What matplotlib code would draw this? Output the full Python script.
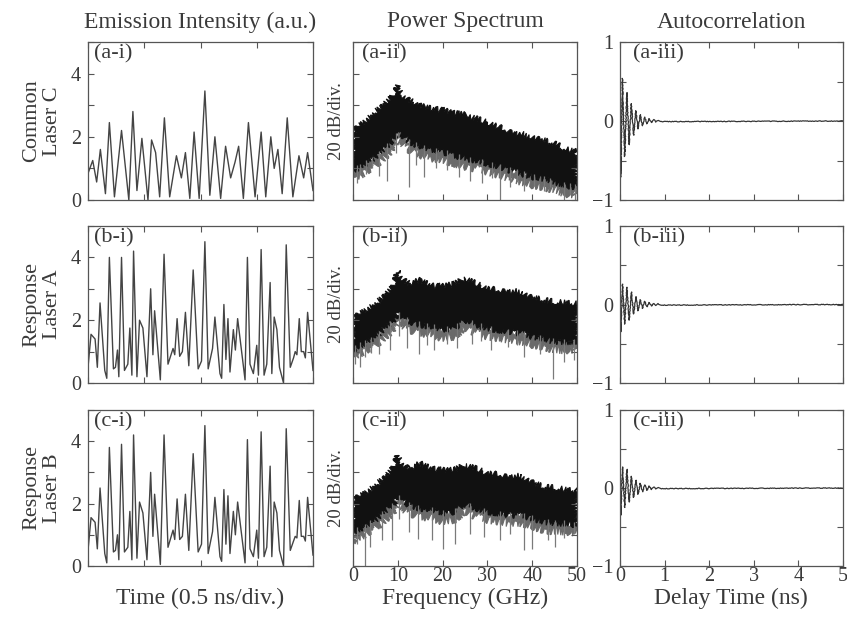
import numpy as np
import matplotlib
matplotlib.use('Agg')
import matplotlib.pyplot as plt
from matplotlib.ticker import MultipleLocator, NullFormatter

plt.rcParams['font.family'] = ['Liberation Serif', 'DejaVu Serif']

txt = '#3a3a3a'
edge = '#555555'

# ---- emission intensity (time in ns, intensity a.u.) ----
tA = [0.000, 0.042, 0.077, 0.110, 0.155, 0.190, 0.235, 0.298, 0.363, 0.399, 0.435, 0.479,
      0.533, 0.565, 0.601, 0.637, 0.679, 0.726, 0.786, 0.830, 0.866, 0.905, 0.943, 0.988,
      1.039, 1.083, 1.128, 1.179, 1.223, 1.268, 1.307, 1.339, 1.381, 1.426, 1.485, 1.539,
      1.580, 1.625, 1.655, 1.688, 1.726, 1.771, 1.821, 1.875, 1.917, 1.952, 2.000]
intA = [0.84, 1.25, 0.57, 1.6, 0.2, 2.45, 0.1, 2.2, 0.0, 2.8, 0.3, 1.95,
        0.0, 1.9, 1.5, 0.1, 2.6, 0.1, 1.4, 0.7, 1.5, 0.05, 2.15, 0.05,
        3.45, 0.15, 2.0, 0.05, 1.7, 0.7, 1.2, 1.7, 0.05, 2.45, 0.1, 2.15,
        0.1, 2.0, 1.0, 1.6, 0.2, 2.6, 0.1, 1.4, 0.7, 1.5, 0.3]

tB = [0.000, 0.027, 0.063, 0.083, 0.107, 0.149, 0.167, 0.190, 0.226, 0.244, 0.262, 0.274,
      0.298, 0.324, 0.354, 0.372, 0.390, 0.405, 0.435, 0.458, 0.488, 0.524, 0.557, 0.577,
      0.592, 0.643, 0.676, 0.711, 0.756, 0.771, 0.792, 0.815, 0.839, 0.866, 0.896, 0.935,
      0.979, 1.009, 1.039, 1.068, 1.107, 1.128, 1.173, 1.188, 1.208, 1.226, 1.244, 1.262,
      1.292, 1.310, 1.330, 1.396, 1.417, 1.440, 1.470, 1.500, 1.515, 1.539, 1.565, 1.589,
      1.619, 1.634, 1.655, 1.679, 1.702, 1.738, 1.762, 1.798, 1.827, 1.842, 1.857, 1.878,
      1.896, 1.917, 1.932, 1.952, 2.000]
intB = [0.5, 1.55, 1.4, 0.5, 2.55, 0.4, 0.15, 4.0, 0.45, 0.5, 1.05, 0.2,
        4.0, 0.4, 0.6, 1.75, 0.25, 4.2, 0.2, 2.0, 1.75, 0.2, 3.0, 0.9,
        2.3, 0.1, 4.1, 0.6, 1.1, 0.9, 2.05, 0.85, 1.0, 2.25, 0.55, 3.6,
        0.45, 0.7, 4.5, 0.45, 1.1, 2.1, 0.3, 0.15, 2.5, 0.75, 2.05, 0.35,
        1.7, 1.05, 2.05, 0.1, 4.0, 0.6, 0.3, 1.2, 0.25, 4.25, 0.25, 0.6,
        3.2, 0.3, 2.1, 1.7, 0.5, 0.0, 4.4, 0.5, 0.8, 1.0, 0.9, 2.05,
        1.0, 1.0, 0.8, 2.25, 0.4]
intC = [0.5, 1.55, 1.4, 0.55, 2.5, 0.4, 0.1, 3.8, 0.45, 0.5, 1.0, 0.2,
        3.9, 0.45, 0.6, 1.75, 0.2, 4.2, 0.25, 2.05, 1.7, 0.2, 3.0, 0.95,
        2.3, 0.05, 4.2, 0.6, 1.15, 0.85, 2.15, 0.85, 0.95, 2.3, 0.5, 3.6,
        0.45, 0.7, 4.5, 0.4, 1.1, 2.2, 0.3, 0.15, 2.45, 0.7, 2.25, 0.4,
        1.75, 1.0, 2.05, 0.1, 4.05, 0.55, 0.3, 1.15, 0.25, 4.3, 0.3, 0.6,
        3.2, 0.3, 2.05, 1.7, 0.5, 0.0, 4.4, 0.5, 0.8, 0.95, 0.9, 2.1,
        0.95, 0.95, 0.8, 2.2, 0.35]

# ---- power spectra (GHz, dB above axis bottom) ----
freq = [0, 1, 2.5, 5, 7.5, 9, 10, 11, 12.5, 15, 17.5, 20, 22.5, 25, 27.5, 30,
        32.5, 35, 37.5, 40, 42.5, 45, 47.5, 50]
specA_top = [43, 46, 49.6, 56, 62, 66.6, 72, 66.6, 63.4, 59.6, 58, 57, 55, 54, 51.7, 49,
             46.4, 44, 42, 40, 38, 35.7, 32.5, 31.5]
specA_low = [18.7, 20, 22, 27, 33.6, 38, 43, 41, 37, 33.6, 31.5, 30.4, 28.3, 26, 25, 23,
             21, 18.7, 16.6, 14.5, 13.4, 11.3, 9, 8]
specB_top = [41, 43, 46, 50.6, 57, 62, 71.5, 66.6, 63.4, 65.5, 62, 61.7, 63, 66.6, 63.4, 60,
             59.6, 59, 58, 54.5, 53, 51.7, 52, 50.6]
specB_low = [21, 23, 25, 29, 35.7, 39, 44, 42, 39, 37, 35.7, 33.6, 34.7, 40, 37, 34.7,
             33.6, 32.5, 31.5, 29.4, 28.3, 26, 26, 26]
specC_top = [42, 44, 46.5, 52, 58, 63.6, 71, 65.7, 62.5, 65.7, 62.5, 61.5, 61.5, 64.7, 62.5, 59.3,
             59, 58, 57.6, 54, 50.7, 50.3, 49.7, 48.6]
specC_low = [20.8, 23, 25, 29.3, 35.8, 39, 44.3, 42, 39, 36.8, 35.8, 33.6, 34.7, 40, 36.8, 34.7,
             33.6, 32.5, 32.5, 30.4, 28.3, 27.2, 27.2, 26]

spikeA_f = [0.9, 1.6, 3.0, 4.2, 5.7, 7.6, 9.5, 12.6, 14.0, 15.8, 18.5, 21.0, 23.6, 26.2, 28.8,
            31.0, 32.9, 35.1, 36.5, 38.1, 40.5, 42.6, 44.0, 47.0, 48.5, 49.6]
spikeA_d = [11, 16, 16.6, 20, 15.5, 12, 30, 8, 22, 14.5, 20, 18.7, 14.5, 12, 11,
            14, 0, 8, 12, 6, 9, 6, 8, 0, 4, 0]
spikeB_f = [0.5, 1.6, 2.75, 4.0, 5.7, 8.3, 10.3, 12.1, 14.7, 16.5, 18.0, 21.0, 23.2, 26.6, 28.5,
            30.7, 34.7, 36.5, 38.1, 41.8, 44.6, 47.0, 49.4]
spikeB_d = [12, 10, 16.6, 19, 18.7, 21, 30, 22, 18.7, 24, 21, 25, 22, 25, 27,
            21, 23, 24, 16.6, 18.7, 2.8, 13.4, 14.5]
spikeC_f = [0.9, 2.6, 3.9, 6.5, 8.8, 10.3, 12.5, 14.4, 17.6, 20.1, 22.8, 26.2, 29.2, 32.9,
            35.1, 38.1, 40.0, 43.5, 45.2, 47.0, 49.3]
spikeC_d = [14.3, 0, 12, 16.5, 16.5, 30, 22, 17.5, 16.5, 11, 14.3, 20.8, 18.6, 16.5,
            20.8, 10, 11, 16.5, 12, 18, 20.8]

# ---- autocorrelation (delay ns, value) ----
acA_t = [0.000, 0.020, 0.055, 0.105, 0.155, 0.205, 0.255, 0.305, 0.355, 0.405, 0.455, 0.505,
         0.555, 0.605, 0.655, 0.705, 0.755, 0.805, 0.855, 0.905, 5.0]
acA_v = [0.0, -0.71, 0.54, -0.45, 0.36, -0.30, 0.22, -0.18, 0.13, -0.10, 0.08, -0.06,
         0.05, -0.035, 0.03, -0.02, 0.02, -0.012, 0.01, -0.008, 0.0]
acB_t = acA_t
acB_v = [0.0, -0.35, 0.26, -0.25, 0.22, -0.20, 0.16, -0.12, 0.10, -0.08, 0.06, -0.05,
         0.04, -0.03, 0.025, -0.02, 0.015, -0.01, 0.01, -0.008, 0.0]
acC_v = [0.0, -0.35, 0.27, -0.25, 0.24, -0.18, 0.15, -0.12, 0.10, -0.08, 0.06, -0.05,
         0.04, -0.03, 0.025, -0.02, 0.015, -0.01, 0.01, -0.008, 0.0]

rows = ['a', 'b', 'c']
rowNames = ['Common\nLaser C', 'Response\nLaser A', 'Response\nLaser B']
series = [(tA, intA), (tB, intB), (tB, intC)]
spectra = [(specA_top, specA_low, spikeA_f, spikeA_d),
           (specB_top, specB_low, spikeB_f, spikeB_d),
           (specC_top, specC_low, spikeC_f, spikeC_d)]
acorr = [(acA_t, acA_v), (acB_t, acB_v), (acB_t, acC_v)]

W, H = 847, 618
fig = plt.figure(figsize=(W / 100, H / 100), dpi=100)

colX = [(88, 313), (353, 577), (620, 843)]
rowY = [(42, 200), (226, 383), (410, 566)]

def box(ax):
    for s in ax.spines.values():
        s.set_color(edge)
        s.set_linewidth(0.9)
    ax.tick_params(which='both', direction='in', top=True, right=True, length=4,
                   width=0.8, color=edge, labelcolor=txt, labelsize=14.5)
    ax.tick_params(axis='y', pad=5)
    ax.tick_params(axis='x', pad=1)

minus = lambda y, p: '\u2212%d' % abs(y) if y < 0 else '%d' % y

for r in range(3):
    y0, y1 = rowY[r]
    axes = []
    for c in range(3):
        x0, x1 = colX[c]
        axes.append(fig.add_axes([x0 / W, 1 - y1 / H, (x1 - x0) / W, (y1 - y0) / H]))
    a1, a2, a3 = axes

    # emission intensity
    t, v = series[r]
    a1.plot(t, v, color='#444444', lw=1.0)
    a1.set_xlim(0, 2)
    a1.set_ylim(0, 5)
    a1.xaxis.set_major_locator(MultipleLocator(0.5))
    a1.xaxis.set_major_formatter(NullFormatter())
    a1.yaxis.set_major_locator(MultipleLocator(2))
    a1.yaxis.set_minor_locator(MultipleLocator(1))
    box(a1)
    a1.text(0.025, 0.985, '(%s-i)' % rows[r], transform=a1.transAxes, ha='left', va='top',
            fontsize=16, color=txt)

    # power spectrum: gray dips, then a ragged gray fringe and the black band on top
    top, low, sf, sd = spectra[r]
    low = np.array(low)
    lowf = np.interp(sf, freq, low)
    a2.vlines(sf, sd, lowf + 2, color='#7a7a7a', lw=0.9)
    fx = list(freq) + list(freq[::-1])
    fringe, = a2.fill(fx, list(low + 1) + list(low[::-1] - 5), color='#6a6a6a', lw=0.8)
    fringe.set_sketch_params(4.0, 2.0, 6.0)
    band, = a2.fill(fx, list(top) + list(low[::-1]), color='#111111', lw=0.8)
    band.set_sketch_params(3.0, 2.0, 6.0)
    a2.set_xlim(0, 50)
    a2.set_ylim(0, 100)
    a2.xaxis.set_major_locator(MultipleLocator(10))
    a2.yaxis.set_major_locator(MultipleLocator(20))
    a2.yaxis.set_major_formatter(NullFormatter())
    box(a2)
    if r < 2:
        a2.xaxis.set_major_formatter(NullFormatter())
    a2.text(0.04, 0.985, '(%s-ii)' % rows[r], transform=a2.transAxes, ha='left', va='top',
            fontsize=16, color=txt)
    fig.text(336 / W, 1 - (y0 + y1) / 2 / H, '20 dB/div.', rotation=90, ha='center',
             va='center', fontsize=13.5, color=txt)

    # autocorrelation
    at, av = acorr[r]
    ln, = a3.plot(at, av, color='#333333', lw=0.9)
    ln.set_sketch_params(0.3, 2.0, 6.0)
    a3.set_xlim(0, 5)
    a3.set_ylim(-1, 1)
    a3.xaxis.set_major_locator(MultipleLocator(1))
    a3.yaxis.set_major_locator(MultipleLocator(1))
    a3.yaxis.set_minor_locator(MultipleLocator(0.5))
    a3.yaxis.set_major_formatter(plt.FuncFormatter(minus))
    box(a3)
    if r < 2:
        a3.xaxis.set_major_formatter(NullFormatter())
    a3.text(0.06, 0.985, '(%s-iii)' % rows[r], transform=a3.transAxes, ha='left', va='top',
            fontsize=16, color=txt)

    fig.text(42 / W, 1 - (y0 + y1) / 2 / H, rowNames[r], rotation=90, ha='center',
             va='center', fontsize=16, color=txt, linespacing=1.1, multialignment='center')

fig.text(200 / W, 1 - 22 / H, 'Emission Intensity (a.u.)', ha='center', va='center',
         fontsize=17, color=txt)
fig.text(465 / W, 1 - 22 / H, 'Power Spectrum', ha='center', va='center', fontsize=17, color=txt)
fig.text(731 / W, 1 - 22 / H, 'Autocorrelation', ha='center', va='center', fontsize=17, color=txt)
fig.text(200 / W, 1 - 598 / H, 'Time (0.5 ns/div.)', ha='center', va='center', fontsize=17, color=txt)
fig.text(465 / W, 1 - 598 / H, 'Frequency (GHz)', ha='center', va='center', fontsize=17, color=txt)
fig.text(731 / W, 1 - 598 / H, 'Delay Time (ns)', ha='center', va='center', fontsize=17, color=txt)

fig.savefig('out.png', dpi=100)
